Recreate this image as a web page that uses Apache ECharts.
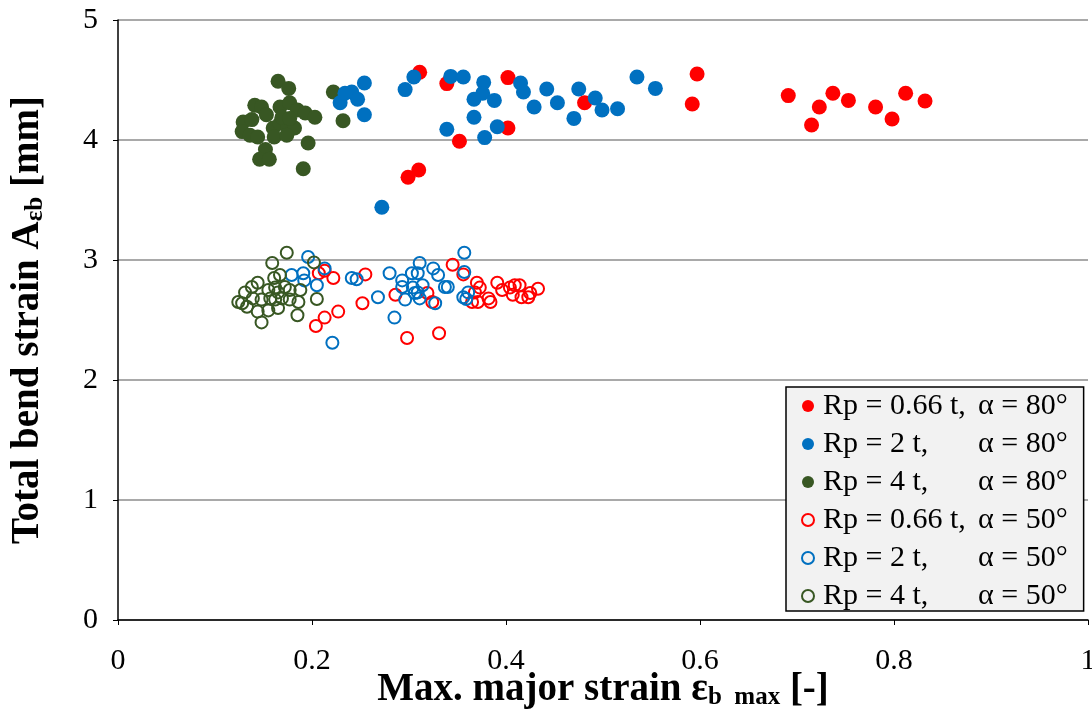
<!DOCTYPE html>
<html>
<head>
    <meta charset="utf-8">
    <title>Total bend strain</title>
    <style>
        html, body { margin: 0; padding: 0; background: #fff; }
        #main { width: 1092px; height: 717px; }
    </style>
</head>
<body>
    <div id="main"></div>
</body>
<script type="text/javascript" src="https://cdn.jsdelivr.net/npm/echarts@6.0.0/dist/echarts.min.js"></script>
<script type="text/javascript">
    // series names (legend)
    var seriesNames = [
        'Rp = 0.66 t, α = 80°',
        'Rp = 2 t, α = 80°',
        'Rp = 4 t, α = 80°',
        'Rp = 0.66 t, α = 50°',
        'Rp = 2 t, α = 50°',
        'Rp = 4 t, α = 50°'
    ];
    var xTicks = [0, 0.2, 0.4, 0.6, 0.8, 1];
    var yTicks = [0, 1, 2, 3, 4, 5];

    // [max. major strain, total bend strain]
    var red80 = [
        [0.311, 4.565], [0.339, 4.47], [0.402, 4.52], [0.402, 4.10], [0.352, 3.99],
        [0.299, 3.69], [0.310, 3.75], [0.481, 4.31], [0.597, 4.55], [0.592, 4.30],
        [0.691, 4.37], [0.723, 4.275], [0.715, 4.125], [0.737, 4.39], [0.753, 4.33],
        [0.781, 4.275], [0.798, 4.175], [0.812, 4.39], [0.832, 4.325]
    ];
    var blue80 = [
        [0.254, 4.475], [0.241, 4.40], [0.247, 4.34], [0.229, 4.31], [0.234, 4.39],
        [0.254, 4.21], [0.296, 4.42], [0.305, 4.525], [0.272, 3.44], [0.343, 4.53],
        [0.356, 4.525], [0.377, 4.48], [0.376, 4.39], [0.367, 4.34], [0.388, 4.33],
        [0.415, 4.475], [0.418, 4.40], [0.429, 4.275], [0.442, 4.425], [0.453, 4.31],
        [0.475, 4.425], [0.492, 4.35], [0.470, 4.18], [0.499, 4.25], [0.515, 4.26],
        [0.535, 4.525], [0.554, 4.43], [0.367, 4.19], [0.339, 4.09], [0.378, 4.02],
        [0.391, 4.11]
    ];
    var green80 = [
        [0.165, 4.49], [0.176, 4.43], [0.141, 4.29], [0.148, 4.275], [0.153, 4.21],
        [0.167, 4.275], [0.177, 4.31], [0.185, 4.25], [0.193, 4.225], [0.203, 4.19],
        [0.129, 4.15], [0.138, 4.17], [0.128, 4.07], [0.136, 4.04], [0.144, 4.025],
        [0.160, 4.10], [0.167, 4.14], [0.175, 4.11], [0.182, 4.10], [0.161, 4.025],
        [0.174, 4.04], [0.169, 4.19], [0.177, 4.18], [0.196, 3.975], [0.152, 3.92],
        [0.146, 3.84], [0.156, 3.84], [0.191, 3.76], [0.222, 4.40], [0.232, 4.16]
    ];
    var red50 = [
        [0.207, 2.89], [0.213, 2.91], [0.222, 2.85], [0.255, 2.88], [0.252, 2.64],
        [0.227, 2.57], [0.213, 2.52], [0.204, 2.45], [0.286, 2.71], [0.298, 2.35],
        [0.331, 2.39], [0.345, 2.96], [0.319, 2.725], [0.324, 2.65], [0.356, 2.88],
        [0.370, 2.81], [0.373, 2.77], [0.368, 2.73], [0.365, 2.65], [0.371, 2.65],
        [0.382, 2.68], [0.384, 2.65], [0.391, 2.81], [0.396, 2.75], [0.404, 2.77],
        [0.407, 2.71], [0.409, 2.79], [0.414, 2.79], [0.416, 2.69], [0.425, 2.725],
        [0.423, 2.69], [0.433, 2.76]
    ];
    var blue50 = [
        [0.196, 3.025], [0.179, 2.875], [0.191, 2.89], [0.192, 2.83], [0.205, 2.79],
        [0.213, 2.93], [0.221, 2.31], [0.241, 2.85], [0.246, 2.84], [0.280, 2.89],
        [0.293, 2.83], [0.293, 2.775], [0.303, 2.89], [0.309, 2.89], [0.311, 2.975],
        [0.325, 2.93], [0.330, 2.875], [0.314, 2.79], [0.304, 2.77], [0.306, 2.725],
        [0.309, 2.73], [0.311, 2.68], [0.296, 2.67], [0.327, 2.64], [0.268, 2.69],
        [0.285, 2.52], [0.337, 2.775], [0.357, 3.06], [0.340, 2.775], [0.357, 2.90],
        [0.361, 2.73], [0.356, 2.69], [0.359, 2.675]
    ];
    var green50 = [
        [0.174, 3.06], [0.159, 2.975], [0.202, 2.98], [0.161, 2.85], [0.167, 2.875],
        [0.144, 2.81], [0.138, 2.775], [0.131, 2.73], [0.155, 2.75], [0.162, 2.77],
        [0.165, 2.73], [0.172, 2.775], [0.177, 2.75], [0.188, 2.75], [0.124, 2.65],
        [0.128, 2.64], [0.133, 2.61], [0.139, 2.68], [0.148, 2.67], [0.157, 2.68],
        [0.162, 2.67], [0.169, 2.68], [0.177, 2.67], [0.186, 2.65], [0.205, 2.675],
        [0.144, 2.57], [0.155, 2.58], [0.165, 2.60], [0.185, 2.54], [0.148, 2.48]
    ];

    var RED = '#FF0000', BLUE = '#0070C0', GREEN = '#385723';
    var FONT = '"Liberation Serif", "DejaVu Serif", serif';

    var myChart = echarts.init(document.getElementById('main'));

    function filled(name, data, color, z) {
        return {
            name: name, type: 'scatter', data: data, z: z,
            symbol: 'circle', symbolSize: 15,
            itemStyle: { color: color, opacity: 1 }
        };
    }

    function hollow(name, data, color) {
        return {
            name: name, type: 'scatter', data: data, z: 4,
            symbol: 'circle', symbolSize: 12,
            itemStyle: { color: 'rgba(255,255,255,0)', borderColor: color, borderWidth: 2, opacity: 1 }
        };
    }

    // axis title rich styles
    var titleRich = {
        t: { fontFamily: FONT, fontSize: 39, fontWeight: 'bold', color: '#000', lineHeight: 44 },
        s: { fontFamily: FONT, fontSize: 25, fontWeight: 'bold', color: '#000', lineHeight: 44, padding: [16, 0, 0, 0] }
    };

    var option = {
        animation: false,
        backgroundColor: '#fff',
        textStyle: { fontFamily: FONT },
        grid: { left: 118, right: 4, top: 20, bottom: 97, containLabel: false, outerBoundsMode: 'none' },
        xAxis: {
            type: 'value', min: xTicks[0], max: xTicks[xTicks.length - 1], interval: 0.2,
            name: '{t|Max. major strain ε}{s|b  max}{t| [-]}',
            nameLocation: 'middle', nameGap: 48, nameMoveOverlap: false,
            nameTextStyle: { rich: titleRich },
            axisLine: { lineStyle: { color: '#000', width: 1.5 } },
            axisTick: { show: true, length: 5, lineStyle: { color: '#000' } },
            axisLabel: { fontFamily: FONT, fontSize: 30, color: '#000', margin: 26 },
            splitLine: { show: false }
        },
        yAxis: {
            type: 'value', min: yTicks[0], max: yTicks[yTicks.length - 1], interval: 1,
            name: '{t|Total bend strain A}{s|εb}{t| [mm]}',
            nameLocation: 'middle', nameGap: 68, nameMoveOverlap: false,
            nameTextStyle: { rich: titleRich },
            axisLine: { show: true, lineStyle: { color: '#000', width: 1.5 } },
            axisTick: { show: true, length: 5, lineStyle: { color: '#000' } },
            axisLabel: { fontFamily: FONT, fontSize: 30, color: '#000', margin: 20 },
            splitLine: { show: true, lineStyle: { color: '#8c8c8c', width: 1.5 } }
        },
        legend: {
            orient: 'vertical',
            left: 786, top: 387,
            padding: [4, 16, 0, 15],
            itemGap: 8,
            itemWidth: 12, itemHeight: 12,
            backgroundColor: '#F2F2F2',
            borderColor: '#000', borderWidth: 1.5,
            data: seriesNames,
            formatter: function (name) {
                var parts = name.split(', ');
                return '{a|' + parts[0] + ',}{b|' + parts[1] + '}';
            },
            textStyle: {
                fontFamily: FONT, fontSize: 30, color: '#000',
                rich: {
                    a: { fontFamily: FONT, fontSize: 30, color: '#000', width: 155, lineHeight: 30, padding: [0, 0, 0, 4] },
                    b: { fontFamily: FONT, fontSize: 30, color: '#000', lineHeight: 30 }
                }
            }
        },
        series: [
            filled(seriesNames[0], red80, RED, 3),
            filled(seriesNames[1], blue80, BLUE, 3),
            filled(seriesNames[2], green80, GREEN, 2),
            hollow(seriesNames[3], red50, RED),
            hollow(seriesNames[4], blue50, BLUE),
            hollow(seriesNames[5], green50, GREEN)
        ]
    };

    myChart.setOption(option);
</script>
</html>
